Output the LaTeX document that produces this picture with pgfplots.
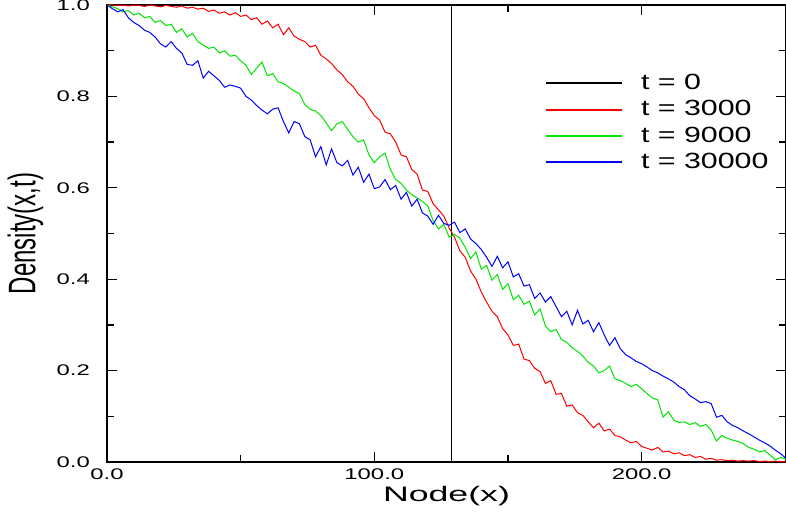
\documentclass[border=0pt]{standalone}
\usepackage{pgfplots}
\pgfplotsset{compat=1.18}
\usepackage{fontspec}
\setmainfont{Liberation Sans}

\definecolor{cred}{rgb}{1,0,0}
\definecolor{cgreen}{rgb}{0,0.9,0}
\definecolor{cblue}{rgb}{0,0,1}

\pgfplotstableread{
x y
0 1.000
2 1.000
4 0.999
6 1.000
8 0.998
10 1.000
12 0.999
14 0.997
16 1.000
18 0.998
20 0.996
22 0.999
24 0.997
26 0.995
28 0.998
30 0.993
32 0.995
34 0.991
36 0.993
38 0.986
40 0.989
42 0.982
44 0.985
46 0.978
48 0.983
50 0.975
52 0.978
54 0.968
56 0.972
58 0.958
60 0.965
62 0.950
64 0.958
66 0.935
68 0.950
70 0.932
72 0.925
74 0.920
76 0.908
78 0.912
80 0.890
82 0.882
84 0.872
86 0.858
88 0.848
90 0.832
92 0.822
94 0.805
96 0.795
98 0.775
100 0.758
102 0.748
104 0.722
106 0.718
108 0.700
110 0.672
112 0.668
114 0.640
116 0.630
118 0.595
120 0.592
122 0.565
124 0.552
126 0.538
128 0.512
130 0.492
132 0.462
134 0.448
136 0.418
138 0.400
140 0.372
142 0.350
144 0.330
146 0.318
148 0.292
150 0.278
152 0.255
154 0.258
156 0.225
158 0.222
160 0.205
162 0.198
164 0.172
166 0.178
168 0.148
170 0.150
172 0.122
174 0.125
176 0.108
178 0.102
180 0.088
182 0.075
184 0.085
186 0.068
188 0.072
190 0.058
192 0.055
194 0.048
196 0.042
198 0.045
200 0.034
202 0.030
204 0.026
206 0.032
208 0.022
210 0.024
212 0.018
214 0.020
216 0.014
218 0.016
220 0.010
222 0.012
224 0.006
226 0.008
228 0.004
230 0.005
232 0.003
234 0.004
236 0.002
238 0.003
240 0.002
242 0.003
244 0.001
246 0.002
248 0.001
250 0.002
252 0.001
254 0.000
}\tthree

\pgfplotstableread{
x y
0 1.000
2 0.996
4 0.992
6 0.985
8 0.988
10 0.978
12 0.982
14 0.972
16 0.975
18 0.962
20 0.966
22 0.955
24 0.958
26 0.940
28 0.948
30 0.930
32 0.938
34 0.920
36 0.912
38 0.905
40 0.908
42 0.895
44 0.900
46 0.888
48 0.890
50 0.878
52 0.868
54 0.848
56 0.862
58 0.875
60 0.845
62 0.850
64 0.832
66 0.828
68 0.820
70 0.812
72 0.806
74 0.782
76 0.772
78 0.768
80 0.758
82 0.742
84 0.725
86 0.740
88 0.745
90 0.728
92 0.712
94 0.700
96 0.705
98 0.672
100 0.655
102 0.668
104 0.676
106 0.640
108 0.618
110 0.610
112 0.595
114 0.585
116 0.578
118 0.570
120 0.560
122 0.528
124 0.510
126 0.520
128 0.492
130 0.498
132 0.490
134 0.470
136 0.445
138 0.460
140 0.422
142 0.430
144 0.398
146 0.410
148 0.378
150 0.390
152 0.355
154 0.365
156 0.345
158 0.352
160 0.322
162 0.335
164 0.298
166 0.285
168 0.290
170 0.268
172 0.262
174 0.250
176 0.242
178 0.232
180 0.218
182 0.210
184 0.195
186 0.200
188 0.210
190 0.182
192 0.178
194 0.172
196 0.165
198 0.170
200 0.160
202 0.150
204 0.140
206 0.136
208 0.098
210 0.110
212 0.092
214 0.086
216 0.088
218 0.082
220 0.086
222 0.078
224 0.082
226 0.070
228 0.046
230 0.058
232 0.052
234 0.048
236 0.045
238 0.040
240 0.032
242 0.028
244 0.022
246 0.025
248 0.015
250 0.005
252 0.010
254 0.006
}\tnine

\pgfplotstableread{
x y
0 1.000
2 0.992
4 0.985
6 0.990
8 0.972
10 0.962
12 0.955
14 0.945
16 0.940
18 0.930
20 0.915
22 0.908
24 0.920
26 0.905
28 0.895
30 0.870
32 0.868
34 0.878
36 0.840
38 0.855
40 0.845
42 0.835
44 0.820
46 0.825
48 0.822
50 0.818
52 0.800
54 0.792
56 0.780
58 0.770
60 0.762
62 0.772
64 0.775
66 0.745
68 0.720
70 0.745
72 0.740
74 0.712
76 0.705
78 0.668
80 0.690
82 0.650
84 0.685
86 0.655
88 0.648
90 0.660
92 0.628
94 0.645
96 0.612
98 0.630
100 0.598
102 0.602
104 0.618
106 0.596
108 0.605
110 0.575
112 0.590
114 0.560
116 0.575
118 0.545
120 0.538
122 0.520
124 0.540
126 0.522
128 0.518
130 0.525
132 0.502
134 0.510
136 0.488
138 0.478
140 0.465
142 0.448
144 0.428
146 0.450
148 0.425
150 0.438
152 0.405
154 0.412
156 0.385
158 0.388
160 0.358
162 0.370
164 0.350
166 0.362
168 0.340
170 0.318
172 0.330
174 0.300
176 0.332
178 0.302
180 0.310
182 0.285
184 0.305
186 0.278
188 0.255
190 0.272
192 0.248
194 0.235
196 0.228
198 0.220
200 0.215
202 0.208
204 0.200
206 0.195
208 0.188
210 0.182
212 0.175
214 0.165
216 0.158
218 0.145
220 0.138
222 0.130
224 0.132
226 0.128
228 0.098
230 0.102
232 0.088
234 0.080
236 0.075
238 0.068
240 0.062
242 0.055
244 0.048
246 0.042
248 0.035
250 0.026
252 0.018
254 0.008
}\tthirty

\begin{document}
\begin{tikzpicture}
\begin{axis}[
    scale only axis,
    width=339.5pt, height=228.5pt,
    xmin=0, xmax=254, ymin=0, ymax=1,
    xtick={0,100,200}, minor x tick num=1,
    ytick={0,0.2,0.4,0.6,0.8,1.0}, minor y tick num=1,
    major tick length=5pt, minor tick length=3.5pt,
    tick style={black, line width=0.6pt},
    axis line style={line width=0.8pt},
    /pgf/number format/assume math mode=true,
    /pgf/number format/.cd, fixed, fixed zerofill, precision=1, /pgfplots/.cd,
    tick label style={font=\fontsize{7.7}{8}\selectfont, xscale=1.55},
    yticklabel style={xshift=-2pt},
    xlabel={\scalebox{1.7}[1]{Node(x)}},
    xlabel style={font=\fontsize{10.5}{11}\selectfont, yshift=3.5pt},
    ylabel={\scalebox{1}[1.6]{Density(x,t)}},
    ylabel style={font=\fontsize{12}{13}\selectfont, yshift=-2pt},
    legend style={at={(rel axis cs:0.635,0.865)}, anchor=north west, draw=none, fill=none,
        font=\fontsize{11}{12}\selectfont, row sep=1pt,
        nodes={inner sep=1.5pt}},
    legend cell align=left,
    legend image code/.code={\draw[#1, line width=1pt] (0pt,0pt) -- (38pt,0pt); \path (46pt,0pt);},
    every axis plot/.append style={line width=0.5pt},
]
\addplot[black] coordinates {(0,1) (129,1) (129,0) (254,0)};
\addlegendentry{\scalebox{1.38}[1]{t = 0}}
\addplot[cred] table[x=x,y=y] {\tthree};
\addlegendentry{\scalebox{1.38}[1]{t = 3000}}
\addplot[cgreen] table[x=x,y=y] {\tnine};
\addlegendentry{\scalebox{1.38}[1]{t = 9000}}
\addplot[cblue] table[x=x,y=y] {\tthirty};
\addlegendentry{\scalebox{1.38}[1]{t = 30000}}
\end{axis}
\pgfresetboundingbox
\path (-53.5pt,-26pt) rectangle (339.5pt,231pt);
\end{tikzpicture}
\end{document}
